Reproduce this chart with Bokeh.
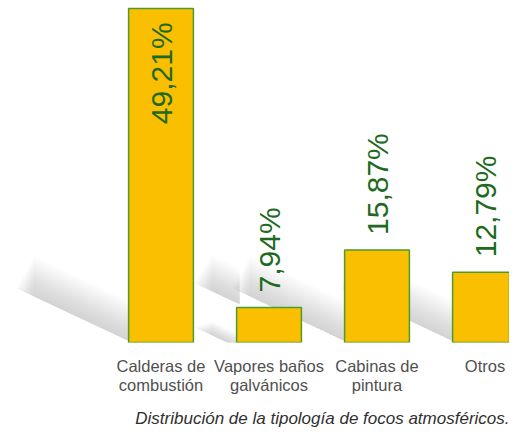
import numpy as np
from bokeh.plotting import figure
from bokeh.models import Range1d, FixedTicker, Title
from bokeh.core.properties import value
from bokeh.embed import file_html
from bokeh.resources import INLINE

categories = ["Calderas de\ncombustión", "Vapores baños\ngalvánicos", "Cabinas de\npintura", "Otros"]
percent = [49.21, 7.94, 15.87, 12.79]
value_labels = ["49,21%", "7,94%", "15,87%", "12,79%"]
caption = "Distribución de la tipología de focos atmosféricos."

xs = np.arange(len(categories)) + 0.5
BAR_W = 0.6
FRAME_W, FRAME_H = 509, 342
px_per_x = 108.0
px_per_y = 7.245
Y0 = 3.1
Y1 = Y0 + FRAME_H / px_per_y
X0 = 0.5 - 160.5 / px_per_x
X1 = X0 + FRAME_W / px_per_x

p = figure(frame_width=FRAME_W, frame_height=FRAME_H, output_backend="svg", toolbar_location=None,
           x_range=Range1d(X0, X1), y_range=Range1d(Y0, Y1),
           min_border_left=0, min_border_right=0, min_border_top=0, min_border_bottom=0,
           outline_line_color=None)
p.yaxis.visible = False
p.xgrid.visible = False
p.ygrid.visible = False
p.background_fill_color = "white"
p.border_fill_color = "white"

# decorative diagonal shadow bands (gradient via stacked translucent layers)
slope = 0.47 * px_per_x / px_per_y  # data-y per data-x
# (bar index, lift of lower edge in px at the bar's left side, fade height px, length px)
bands = [(0, 0, 40, 115), (1, 38, 36, 45), (1, -6, 14, 45), (2, 0, 40, 115), (3, 0, 40, 115)]
layers = 16
taper = 18.0 / px_per_x
bx, by = [], []
for bi, lift, fh, ln in bands:
    xr = xs[bi] - BAR_W / 2 + 0.03
    y_r = Y0 + lift / px_per_y
    for j in range(layers):
        xl = xr - ln / px_per_x + taper * j / layers
        y_l = y_r + slope * (xr - xl)
        h = (fh / px_per_y) * (j + 1) / layers
        bx.append([xl, xr, xr, xl])
        by.append([y_l, y_r, y_r + h, y_l + h])
p.patches(bx, by, fill_color="#a0a0a0", fill_alpha=0.033, line_color=None)

p.vbar(x=xs, top=percent, bottom=Y0 - 1, width=BAR_W,
       fill_color="#FABF00", line_color="#4E9A2A", line_width=1.5)

green = "#1D6A20"
big = int(np.argmax(percent))
out_idx = [i for i in range(len(percent)) if i != big]
p.text(x=[xs[big]], y=[percent[big]], text=[value_labels[big]], angle=np.pi / 2,
       text_align="right", text_baseline="middle", y_offset=14,
       text_font=value("Liberation Sans"), text_font_size="30px", text_color=green)
p.text(x=[xs[i] for i in out_idx], y=[percent[i] for i in out_idx],
       text=[value_labels[i] for i in out_idx], angle=np.pi / 2,
       text_align="left", text_baseline="middle", y_offset=-15,
       text_font=value("Liberation Sans"), text_font_size="30px", text_color=green)

ax = p.xaxis[0]
ax.ticker = FixedTicker(ticks=list(xs))
ax.major_label_overrides = {float(x): c for x, c in zip(xs, categories)}
ax.axis_line_color = None
ax.major_tick_line_color = None
ax.minor_tick_line_color = None
ax.major_label_standoff = 8
ax.major_label_text_font = "Liberation Sans"
ax.major_label_text_font_size = "16.5px"
ax.major_label_text_color = "#505050"
ax.major_label_text_line_height = 1.1

t = Title(text=caption, align="right", text_font="Liberation Sans",
          text_font_style="italic", text_font_size="17px", text_color="#303030",
          standoff=19, offset=0)
p.add_layout(t, "below")

open("out.html", "w").write(file_html(p, INLINE))
